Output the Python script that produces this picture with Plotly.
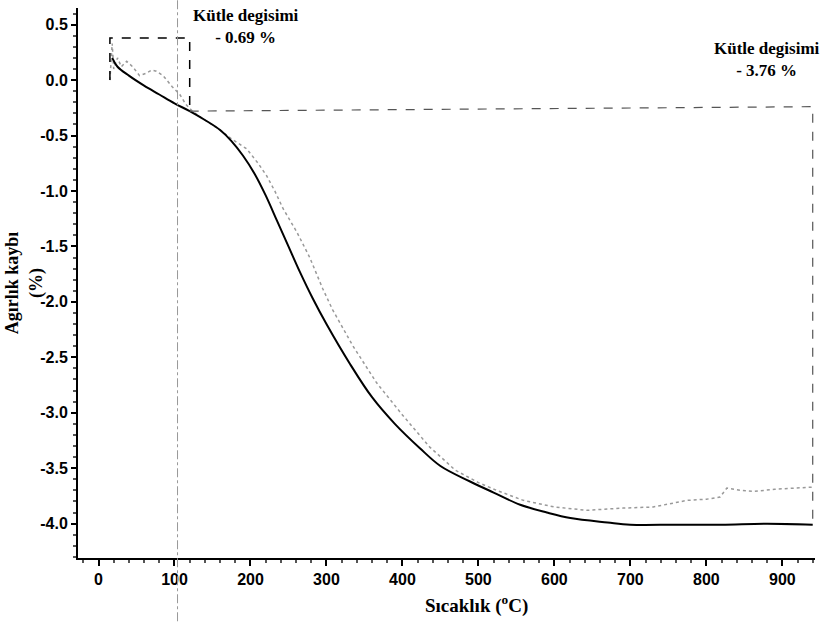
import plotly.graph_objects as go

# Solid (dark) TGA curve: temperature (°C), weight change (%)
black_t = [18, 25, 40, 60, 80, 100, 120, 140, 160, 175, 190, 205, 220, 235, 250, 265, 282,
           300, 331, 360, 390, 423, 450, 489, 520, 555, 590, 621, 670, 700, 760, 820, 880, 940]
black_w = [0.20, 0.12, 0.04, -0.05, -0.13, -0.21, -0.28, -0.36, -0.45, -0.55, -0.68, -0.84,
           -1.04, -1.27, -1.50, -1.73, -1.97, -2.20, -2.56, -2.86, -3.10, -3.32, -3.48, -3.62,
           -3.72, -3.83, -3.90, -3.95, -3.99, -4.01, -4.01, -4.01, -4.00, -4.01]

# Dotted (grey) TGA curve
grey_t = [15, 18, 20, 25, 30, 37, 45, 54, 62, 70, 76, 85, 97, 107, 115, 125, 140, 160, 175,
          195, 210, 221, 232, 243, 261, 278, 295, 308, 335, 366, 400, 436, 470, 500, 524,
          559, 600, 643, 690, 730, 775, 800, 818, 827, 845, 862, 890, 920, 941]
grey_w = [0.00, 0.33, 0.10, 0.20, 0.12, 0.17, 0.12, 0.04, 0.06, 0.09, 0.08, 0.04, -0.06,
          -0.13, -0.22, -0.29, -0.36, -0.45, -0.53, -0.62, -0.75, -0.86, -1.00, -1.16, -1.37,
          -1.60, -1.88, -2.07, -2.40, -2.73, -3.02, -3.31, -3.52, -3.63, -3.70, -3.79, -3.85,
          -3.88, -3.86, -3.85, -3.79, -3.78, -3.76, -3.68, -3.70, -3.71, -3.69, -3.68, -3.67]

# Annotation brackets
bracket1_x = [15, 15, 120, 120]
bracket1_y = [0.0, 0.38, 0.38, -0.28]
bracket2_x = [120, 940, 940]
bracket2_y = [-0.28, -0.24, -4.01]
marker_temp = 104

x_ticks = [0, 100, 200, 300, 400, 500, 600, 700, 800, 900]
y_ticks = [0.5, 0.0, -0.5, -1.0, -1.5, -2.0, -2.5, -3.0, -3.5, -4.0]
y_tick_text = ["0.5", "0.0", "-0.5", "-1.0", "-1.5", "-2.0", "-2.5", "-3.0", "-3.5", "-4.0"]

fig = go.Figure()
fig.add_trace(go.Scatter(x=grey_t, y=grey_w, mode="lines",
                         line=dict(color="#999999", width=1.5, dash="dot"), showlegend=False))
fig.add_trace(go.Scatter(x=black_t, y=black_w, mode="lines", line_shape="spline",
                         line=dict(color="black", width=2), showlegend=False))
fig.add_trace(go.Scatter(x=bracket1_x, y=bracket1_y, mode="lines",
                         line=dict(color="black", width=1.5, dash="dash"), showlegend=False))
fig.add_trace(go.Scatter(x=bracket2_x, y=bracket2_y, mode="lines",
                         line=dict(color="#555", width=1.2, dash="dash"), showlegend=False))

fig.add_shape(type="line", xref="x", yref="paper", x0=marker_temp, x1=marker_temp,
              y0=-0.115, y1=1.015, line=dict(color="#999", width=1, dash="dashdot"))

serif = "Liberation Serif"
fig.add_annotation(x=194, y=1.008, xref="x", yref="paper", yanchor="top", showarrow=False,
                   text="<b>Kütle degisimi<br>- 0.69 %</b>", align="center",
                   font=dict(family=serif, size=17, color="black"))
fig.add_annotation(x=880, y=0.948, xref="x", yref="paper", yanchor="top", showarrow=False,
                   text="<b>Kütle degisimi<br>- 3.76 %</b>", align="center",
                   font=dict(family=serif, size=17, color="black"))
fig.add_annotation(x=497, y=-0.085, xref="x", yref="paper", yanchor="middle", showarrow=False,
                   text="<b>Sıcaklık (<sup>o</sup>C)</b>",
                   font=dict(family=serif, size=19, color="black"))
fig.add_annotation(x=-0.073, y=0.5, xref="paper", yref="paper", textangle=-90,
                   xanchor="center", yanchor="middle",
                   showarrow=False, align="center",
                   text="<b>Agırlık kaybı<br>(%)</b>",
                   font=dict(family=serif, size=18, color="black"))

fig.update_layout(
    width=829, height=626,
    margin=dict(l=78, r=14, t=8, b=68, autoexpand=False),
    plot_bgcolor="white", paper_bgcolor="white",
    xaxis=dict(range=[-27, 943], tickvals=x_ticks, showgrid=False, zeroline=False,
               showline=True, linecolor="black", linewidth=2, ticks="outside",
               ticklen=6, tickwidth=1.5, tickcolor="black", automargin=False,
               minor=dict(ticks="outside", ticklen=3, dtick=20, tickcolor="#555"),
               tickfont=dict(family="Liberation Sans", size=16, color="black", weight="bold")),
    yaxis=dict(range=[-4.31, 0.65], tickvals=y_ticks, ticktext=y_tick_text,
               showgrid=False, zeroline=False, showline=True, linecolor="black",
               linewidth=2, ticks="outside", ticklen=5, tickwidth=1.5, tickcolor="black",
               automargin=False,
               minor=dict(ticks="outside", ticklen=3, dtick=0.1, tickcolor="#555"),
               tickfont=dict(family="Liberation Sans", size=16, color="black", weight="bold")),
)

fig.write_html("out.html", config={"displayModeBar": False},
               post_script="document.body.style.margin='0';")
